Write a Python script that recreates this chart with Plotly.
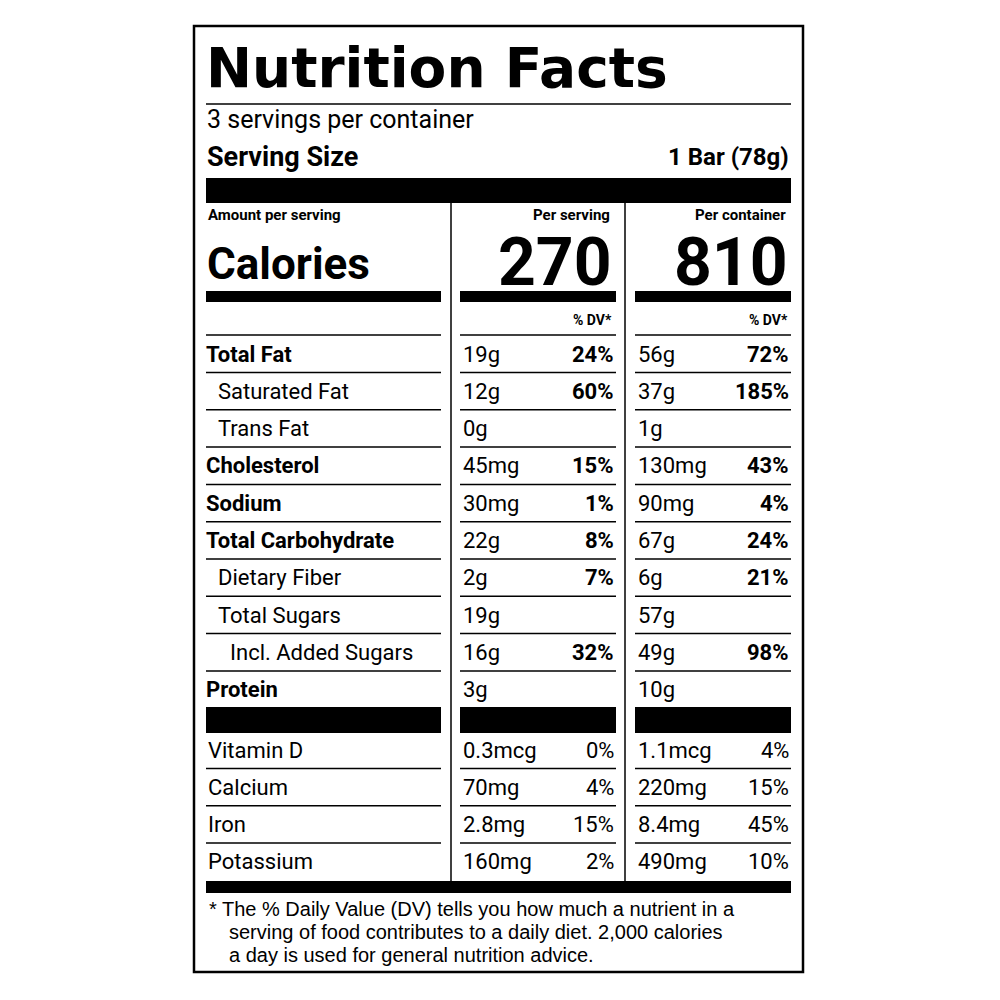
import plotly.graph_objects as go

# label content
servings_text = "3 servings per container"
serving_size = "1 Bar (78g)"
calories = ["270", "810"]

nutrients = ["Total Fat", "Saturated Fat", "Trans Fat", "Cholesterol", "Sodium",
             "Total Carbohydrate", "Dietary Fiber", "Total Sugars", "Incl. Added Sugars", "Protein"]
indent = [0, 1, 1, 0, 0, 0, 1, 1, 2, 0]
bold = [True, False, False, True, True, True, False, False, False, True]
serv_amt = ["19g", "12g", "0g", "45mg", "30mg", "22g", "2g", "19g", "16g", "3g"]
serv_dv = ["24%", "60%", "", "15%", "1%", "8%", "7%", "", "32%", ""]
cont_amt = ["56g", "37g", "1g", "130mg", "90mg", "67g", "6g", "57g", "49g", "10g"]
cont_dv = ["72%", "185%", "", "43%", "4%", "24%", "21%", "", "98%", ""]

vitamins = ["Vitamin D", "Calcium", "Iron", "Potassium"]
vit_serv_amt = ["0.3mcg", "70mg", "2.8mg", "160mg"]
vit_serv_dv = ["0%", "4%", "15%", "2%"]
vit_cont_amt = ["1.1mcg", "220mg", "8.4mg", "490mg"]
vit_cont_dv = ["4%", "15%", "45%", "10%"]

footnote = ["* The % Daily Value (DV) tells you how much a nutrient in a",
            "serving of food contributes to a daily diet. 2,000 calories",
            "a day is used for general nutrition advice."]

NARROW = "Roboto, Liberation Sans, sans-serif"
REG = "Liberation Sans, Arial, sans-serif"
OX, OY = -7, -8  # page offset correction

fig = go.Figure()
shapes = []
ann = []


def rect(x0, y0, x1, y1):
    shapes.append(dict(type="rect", x0=x0 + OX, x1=x1 + OX, y0=y0 + OY, y1=y1 + OY,
                       fillcolor="black", line=dict(width=0), layer="above"))


def hline(x0, x1, y, w=1.5):
    shapes.append(dict(type="line", x0=x0 + OX, x1=x1 + OX, y0=y + OY, y1=y + OY,
                       line=dict(color="black", width=w)))


def vline(x, y0, y1):
    shapes.append(dict(type="line", x0=x + OX, x1=x + OX, y0=y0 + OY, y1=y1 + OY,
                       line=dict(color="black", width=1.5)))


def text(x, y, t, size, b=False, anchor="left", family=NARROW):
    if b:
        t = "<b>" + t + "</b>"
    ann.append(dict(x=x + OX, y=y + OY, text=t, showarrow=False, xanchor=anchor, yanchor="middle",
                    font=dict(size=size, family=family, color="black")))


# outer border
shapes.append(dict(type="rect", x0=193 + OX, x1=802 + OX, y0=26 + OY, y1=972 + OY,
                   line=dict(color="black", width=2.5)))

text(203, 68, "Nutrition Facts", 55, True, family="DejaVu Sans, sans-serif")
hline(205, 790, 104, 1.5)
text(204, 119, servings_text, 25)
text(204, 157, "Serving Size", 27, True)
text(790, 157, serving_size, 24, True, "right")
rect(205, 178, 790, 203)

cols = [(205, 440), (459, 615), (634, 790)]
vline(450, 203, 881)
vline(624, 203, 881)

text(205, 215, "Amount per serving", 15, True)
text(611, 215, "Per serving", 15, True, "right")
text(787, 215, "Per container", 15, True, "right")
text(204, 264, "Calories", 44, True)
text(613, 262, calories[0], 66, True, "right")
text(789, 262, calories[1], 66, True, "right")
for c in cols:
    rect(c[0], 291, c[1], 302)
text(613, 320, "% DV*", 14, True, "right")
text(789, 320, "% DV*", 14, True, "right")
for c in cols:
    hline(c[0], c[1], 335)

y0, dy = 354, 37.3
for i, n in enumerate(nutrients):
    y = y0 + i * dy
    text(203 + indent[i] * 12, y, n, 22, bold[i])
    text(460, y, serv_amt[i], 22)
    text(615, y, serv_dv[i], 22, True, "right")
    text(635, y, cont_amt[i], 22)
    text(790, y, cont_dv[i], 22, True, "right")
    if i < len(nutrients) - 1:
        for c in cols:
            hline(c[0], c[1], y + 18.5)
for c in cols:
    rect(c[0], 707, c[1], 733)

v0 = 750
for i, v in enumerate(vitamins):
    y = v0 + i * dy
    text(205, y, v, 22)
    text(460, y, vit_serv_amt[i], 22)
    text(615, y, vit_serv_dv[i], 22, False, "right")
    text(635, y, vit_cont_amt[i], 22)
    text(790, y, vit_cont_dv[i], 22, False, "right")
    if i < len(vitamins) - 1:
        for c in cols:
            hline(c[0], c[1], y + 18.5)
rect(205, 881, 790, 893)

text(206, 909, footnote[0], 20, family=REG)
text(226, 932, footnote[1], 20, family=REG)
text(226, 955, footnote[2], 20, family=REG)

fig.update_layout(width=1000, height=1000, margin=dict(l=0, r=0, t=0, b=0),
                  plot_bgcolor="white", paper_bgcolor="white",
                  shapes=shapes, annotations=ann, showlegend=False,
                  xaxis=dict(range=[0, 1000], visible=False, fixedrange=True),
                  yaxis=dict(range=[1000, 0], visible=False, fixedrange=True))
fig.write_html("out.html")
